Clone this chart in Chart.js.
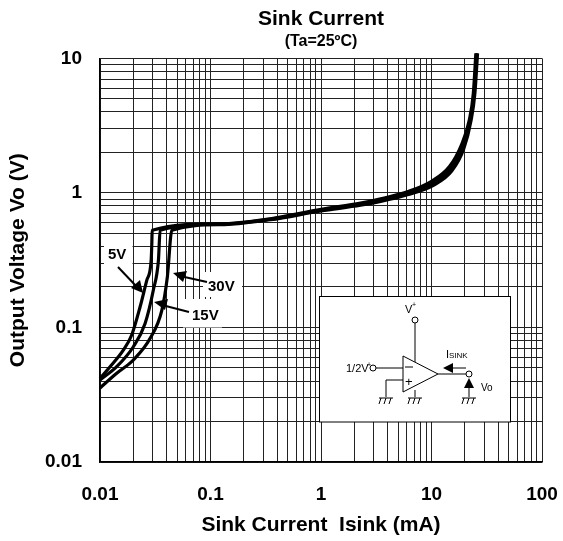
<!DOCTYPE html>
<html>
<head>
<meta charset="utf-8">
<style>
  html, body { margin: 0; padding: 0; background: #fff; }
  canvas { display: block; }
</style>
<script src="https://cdn.jsdelivr.net/npm/chart.js@4"></script>
</head>
<body>
<canvas id="chart" width="563" height="541"></canvas>
<script>
const curve5V = [[0.01,0.0419],[0.01233,0.0511],[0.01625,0.0679],[0.01936,0.0879],[0.02307,0.1426],[0.02654,0.2249],[0.02904,0.3165],[0.02945,0.424],[0.02965,0.528],
  [0.1225,0.59],[0.348,0.643],[1,0.755],[2.28,0.84],[3.47,0.905],[6.05,1.02],[10.0,1.22],[14.6,1.58],[18.6,2.26],[22,3.5],[23.9,5.5],[25.2,10.9]];
const curve15V = [[0.01,0.0407],[0.01416,0.0511],[0.02004,0.0719],[0.02559,0.1071],[0.0304,0.1897],[0.0338,0.3165],[0.035,0.528],
  [0.1225,0.586],[0.348,0.638],[1,0.745],[2.28,0.824],[3.47,0.883],[6.05,0.995],[10.2,1.18],[14.96,1.52],[19.1,2.195],[22.4,3.47],[24.3,5.5],[25.7,10.9]];
const curve30V = [[0.01,0.0355],[0.01416,0.0456],[0.02004,0.0573],[0.02844,0.083],[0.0363,0.1346],[0.0407,0.2378],[0.0447,0.528],
  [0.1225,0.58],[0.348,0.632],[1,0.735],[2.28,0.81],[3.47,0.865],[6.05,0.97],[10.4,1.14],[15.3,1.46],[19.6,2.13],[22.8,3.45],[24.7,5.5],[26.1,10.9]];
const xTickLabels = [0.01, 0.1, 1, 10, 100];
const yTickLabels = [0.01, 0.1, 1, 10];

const FONT = '"Liberation Sans", Arial, sans-serif';

function toPoints(rows) {
  return rows.map(r => ({ x: r[0], y: r[1] }));
}

function curveSet(label, rows) {
  return {
    label, data: toPoints(rows), borderColor: "#000", borderWidth: 3.2,
    pointRadius: 0, fill: false, clip: false, cubicInterpolationMode: "monotone"
  };
}

// log grid has a line for each of 1..9 in a decade, only powers of ten get a label
function logTicks(scale) {
  const ticks = [];
  for (let e = Math.round(Math.log10(scale.min)); e < Math.round(Math.log10(scale.max)); e++) {
    for (let m = 1; m < 10; m++) ticks.push({ value: m * Math.pow(10, e) });
  }
  ticks.push({ value: scale.max });
  scale.ticks = ticks;
}

function tickText(v, list) {
  return list.find(t => Math.abs(t - v) / t < 1e-6) !== undefined ? String(+v.toPrecision(3)) : "";
}

function text(ctx, str, x, y, font, align) {
  ctx.font = font + " " + FONT;
  ctx.textAlign = align || "left";
  ctx.textBaseline = "alphabetic";
  ctx.fillStyle = "#000";
  ctx.fillText(str, x, y);
}

function line(ctx, pts, w) {
  ctx.beginPath();
  pts.forEach((p, i) => i ? ctx.lineTo(p[0], p[1]) : ctx.moveTo(p[0], p[1]));
  ctx.lineWidth = w || 1;
  ctx.strokeStyle = "#000";
  ctx.stroke();
}

function arrowHead(ctx, tip, a, b) {
  ctx.beginPath();
  ctx.moveTo(tip[0], tip[1]);
  ctx.lineTo(a[0], a[1]);
  ctx.lineTo(b[0], b[1]);
  ctx.closePath();
  ctx.fillStyle = "#000";
  ctx.fill();
}

function ring(ctx, x, y) {
  ctx.beginPath();
  ctx.arc(x, y, 3, 0, Math.PI * 2);
  ctx.fillStyle = "#fff";
  ctx.fill();
  ctx.lineWidth = 1;
  ctx.strokeStyle = "#000";
  ctx.stroke();
}

function ground(ctx, x, y) {
  line(ctx, [[x - 7, y], [x + 7, y]], 1);
  [-5, 0, 5].forEach(d => line(ctx, [[x + d, y], [x + d - 2, y + 6]], 1));
}

// white patches behind the labels sit under the curves in the original
const labelPatches = {
  id: "labelPatches",
  beforeDatasetsDraw(chart) {
    const ctx = chart.ctx;
    ctx.save();
    ctx.fillStyle = "#fff";
    ctx.fillRect(104, 243, 28.5, 25);
    ctx.fillRect(203, 272, 39, 25);
    ctx.fillRect(183, 299, 39, 28.5);
    ctx.restore();
  }
};

const annotations = {
  id: "annotations",
  afterDraw(chart) {
    const ctx = chart.ctx;
    ctx.save();
    // voltage labels and arrows
    text(ctx, "5V", 108, 259, "bold 15px");
    text(ctx, "30V", 208, 291, "bold 15px");
    text(ctx, "15V", 192, 320, "bold 15px");
    line(ctx, [[118, 267], [137, 287]], 2);
    arrowHead(ctx, [143, 293], [131, 288], [140, 280]);
    line(ctx, [[207, 282], [180, 276]], 2);
    arrowHead(ctx, [173, 273], [187, 271], [183, 282]);
    line(ctx, [[189, 312], [162, 305]], 2);
    arrowHead(ctx, [154, 302], [168, 299], [165, 310]);
    // inset box with the test circuit
    ctx.fillStyle = "#fff";
    ctx.fillRect(319, 296, 192, 126);
    ctx.strokeStyle = "#000";
    ctx.lineWidth = 1;
    ctx.strokeRect(319.5, 296.5, 191, 125.5);
    text(ctx, "V", 405, 313, "11px");
    text(ctx, "+", 412, 307, "7px");
    line(ctx, [[415, 323], [415, 362]]);
    ring(ctx, 415, 320);
    ctx.beginPath();
    ctx.moveTo(403, 356); ctx.lineTo(438, 374); ctx.lineTo(403, 392); ctx.closePath();
    ctx.fillStyle = "#fff";
    ctx.fill();
    ctx.lineWidth = 1;
    ctx.strokeStyle = "#000";
    ctx.stroke();
    text(ctx, "1/2V", 346, 372, "11px");
    text(ctx, "+", 367, 367, "7px");
    line(ctx, [[376, 368], [403, 368]]);
    ring(ctx, 373, 368);
    line(ctx, [[405, 367], [413, 367]], 1);
    text(ctx, "+", 405, 386, "13px");
    line(ctx, [[403, 380], [386, 380], [386, 397]]);
    ground(ctx, 386, 398);
    line(ctx, [[415, 390], [415, 397]]);
    ground(ctx, 415, 398);
    line(ctx, [[438, 374], [466, 374]]);
    ring(ctx, 469, 374);
    text(ctx, "I", 446, 358, "11px");
    text(ctx, "SINK", 449, 358, "8px");
    line(ctx, [[452, 368], [466, 368]]);
    arrowHead(ctx, [443, 368], [453, 363], [453, 373]);
    arrowHead(ctx, [469, 378], [464, 388], [474, 388]);
    line(ctx, [[469, 388], [469, 397]]);
    ground(ctx, 469, 398);
    text(ctx, "Vo", 481, 391, "10px");
    ctx.restore();
  }
};

new Chart(document.getElementById("chart"), {
  type: "line",
  data: {
    datasets: [curveSet("5V", curve5V), curveSet("15V", curve15V), curveSet("30V", curve30V)]
  },
  plugins: [labelPatches, annotations],
  options: {
    responsive: false,
    animation: false,
    layout: { padding: { left: 6, right: 21, top: 0, bottom: 3 } },
    plugins: {
      legend: { display: false },
      tooltip: { enabled: false },
      title: {
        display: true, text: "Sink Current", color: "#000", fullSize: false,
        font: { family: FONT, size: 21, weight: "bold" },
        padding: { top: 7, bottom: 0 }
      },
      subtitle: {
        display: true, text: "(Ta=25ºC)", color: "#000", fullSize: false,
        font: { family: FONT, size: 16, weight: "bold" },
        padding: { top: 0, bottom: 7 }
      }
    },
    scales: {
      x: {
        type: "logarithmic", min: 0.01, max: 100,
        afterBuildTicks: logTicks,
        afterFit: s => { s.height = 76; s.paddingLeft = 0; s.paddingRight = 0; },
        grid: { color: "#222", lineWidth: 1, drawTicks: false },
        border: { color: "#000", width: 1.5 },
        ticks: {
          autoSkip: false, maxRotation: 0, color: "#000", padding: 21,
          font: { family: FONT, size: 19, weight: "bold" },
          callback: v => tickText(v, xTickLabels)
        },
        title: {
          display: true, text: "Sink Current  Isink (mA)", color: "#000",
          font: { family: FONT, size: 21, weight: "bold" }, padding: { top: 6, bottom: 0 }
        }
      },
      y: {
        type: "logarithmic", min: 0.01, max: 10,
        afterBuildTicks: logTicks,
        afterFit: s => { s.width = 94; s.paddingTop = 0; s.paddingBottom = 0; },
        grid: { color: "#222", lineWidth: 1, drawTicks: false },
        border: { color: "#000", width: 1.5 },
        ticks: {
          autoSkip: false, color: "#000", padding: 18,
          font: { family: FONT, size: 19, weight: "bold" },
          callback: v => tickText(v, yTickLabels)
        },
        title: {
          display: true, text: "Output Voltage Vo (V)", color: "#000",
          font: { family: FONT, size: 21, weight: "bold" }, padding: { top: 0, bottom: 0 }
        }
      }
    }
  }
});
</script>
</body>
</html>
